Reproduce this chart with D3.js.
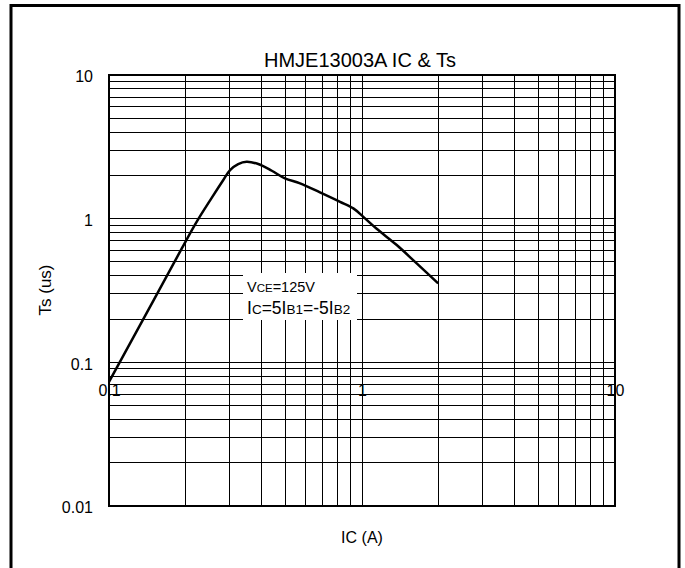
<!DOCTYPE html>
<html>
<head>
<meta charset="utf-8">
<script src="https://cdn.jsdelivr.net/npm/d3@7/dist/d3.min.js"></script>
<style>
  html, body { margin: 0; padding: 0; background: #fff; }
  svg { display: block; font-family: "Liberation Sans", Arial, sans-serif; }
</style>
</head>
<body>
<svg id="chart" width="685" height="568"></svg>
<script>
// ---- data ----
const icValues = [0.1, 0.15, 0.194, 0.222, 0.255, 0.283, 0.301, 0.324, 0.350, 0.389, 0.440, 0.496, 0.569, 0.682, 0.819, 0.924, 1.012, 1.143, 1.372, 1.645, 2.0];
const tsValues = [0.073, 0.27, 0.621, 0.95, 1.40, 1.857, 2.18, 2.40, 2.49, 2.40, 2.156, 1.909, 1.762, 1.524, 1.31, 1.179, 1.03, 0.85, 0.655, 0.488, 0.354];
const xTickLabels = ["0.1", "1", "10"];
const xTickValues = [0.1, 1, 10];
const yTickLabels = ["0.01", "0.1", "1", "10"];
const yTickValues = [0.01, 0.1, 1, 10];
const chartTitle = "HMJE13003A IC & Ts";

// ---- layout ----
const svg = d3.select("#chart");
const pLeft = 109, pRight = 615, pTop = 75, pBottom = 506;
const FONT = "Liberation Sans, Arial, sans-serif";

const x = d3.scaleLog().domain([0.1, 10]).range([pLeft, pRight]);
const y = d3.scaleLog().domain([0.01, 10]).range([pBottom, pTop]);

// outer frame
svg.append("rect")
  .attr("x", 11).attr("y", 5.5)
  .attr("width", 668).attr("height", 580)
  .attr("fill", "none").attr("stroke", "#000").attr("stroke-width", 3);

// title
svg.append("text")
  .attr("x", 360).attr("y", 67)
  .attr("text-anchor", "middle")
  .attr("font-size", 20)
  .text(chartTitle);

// grid lines
const xGrid = [];
for (let d = 0.1; d < 10; d *= 10) for (let k = 1; k <= 9; k++) xGrid.push(+(d * k).toPrecision(3));
const yGrid = [];
for (let d = 0.01; d < 10; d *= 10) for (let k = 1; k <= 9; k++) yGrid.push(+(d * k).toPrecision(3));

const grid = svg.append("g").attr("shape-rendering", "crispEdges");
grid.selectAll("line.v").data(xGrid).enter().append("line").attr("class", "v")
  .attr("x1", d => x(d)).attr("x2", d => x(d))
  .attr("y1", pTop).attr("y2", pBottom)
  .attr("stroke", "#000").attr("stroke-width", 1);
grid.selectAll("line.h").data(yGrid).enter().append("line").attr("class", "h")
  .attr("x1", pLeft).attr("x2", pRight)
  .attr("y1", d => y(d)).attr("y2", d => y(d))
  .attr("stroke", "#000").attr("stroke-width", 1);

// plot border
svg.append("rect")
  .attr("x", pLeft).attr("y", pTop)
  .attr("width", pRight - pLeft).attr("height", pBottom - pTop)
  .attr("fill", "none").attr("stroke", "#000").attr("stroke-width", 2)
  .attr("shape-rendering", "crispEdges");

// curve
const pts = icValues.map((v, i) => [v, tsValues[i]]);
svg.append("path")
  .datum(pts)
  .attr("fill", "none").attr("stroke", "#000").attr("stroke-width", 2.5)
  .attr("stroke-linejoin", "round")
  .attr("d", d3.line().x(d => x(d[0])).y(d => y(d[1])).curve(d3.curveCatmullRom.alpha(0.5)));

// y axis (labels only)
const yAxis = svg.append("g")
  .attr("transform", `translate(${pLeft},0)`)
  .call(d3.axisLeft(y).tickValues(yTickValues).tickSize(0).tickPadding(16)
    .tickFormat((d, i) => yTickLabels[i]));
yAxis.select(".domain").remove();
yAxis.selectAll("text").attr("font-size", 16).attr("fill", "#000")
  .attr("dy", "0.42em").attr("font-family", FONT);

// x axis labels (drawn inside the plot as in the reference)
const xAxis = svg.append("g")
  .attr("transform", `translate(0,${y(0.1) + 19})`)
  .call(d3.axisBottom(x).tickValues(xTickValues).tickSize(0).tickPadding(3)
    .tickFormat((d, i) => xTickLabels[i]));
xAxis.select(".domain").remove();
xAxis.selectAll("text").attr("font-size", 16).attr("fill", "#000")
  .attr("font-family", FONT);

// axis titles
svg.append("text")
  .attr("x", x(1)).attr("y", 543)
  .attr("text-anchor", "middle").attr("font-size", 16)
  .text("IC (A)");

svg.append("text")
  .attr("transform", "translate(51,290) rotate(-90)")
  .attr("text-anchor", "middle").attr("font-size", 17)
  .text("Ts (us)");

// annotation box
const bx = 243, by = 273;
svg.append("rect")
  .attr("x", bx).attr("y", by).attr("width", 114).attr("height", 47)
  .attr("fill", "#fff");
const t1 = svg.append("text").attr("x", bx + 4).attr("y", by + 19).attr("font-size", 14.5);
t1.append("tspan").text("V");
t1.append("tspan").attr("font-size", 11.5).text("CE");
t1.append("tspan").text("=125V");
const t2 = svg.append("text").attr("x", bx + 4).attr("y", by + 41).attr("font-size", 17.5);
t2.append("tspan").text("I");
t2.append("tspan").attr("font-size", 13.5).text("C");
t2.append("tspan").text("=5I");
t2.append("tspan").attr("font-size", 13.5).text("B1");
t2.append("tspan").text("=-5I");
t2.append("tspan").attr("font-size", 13.5).text("B2");
</script>
</body>
</html>
